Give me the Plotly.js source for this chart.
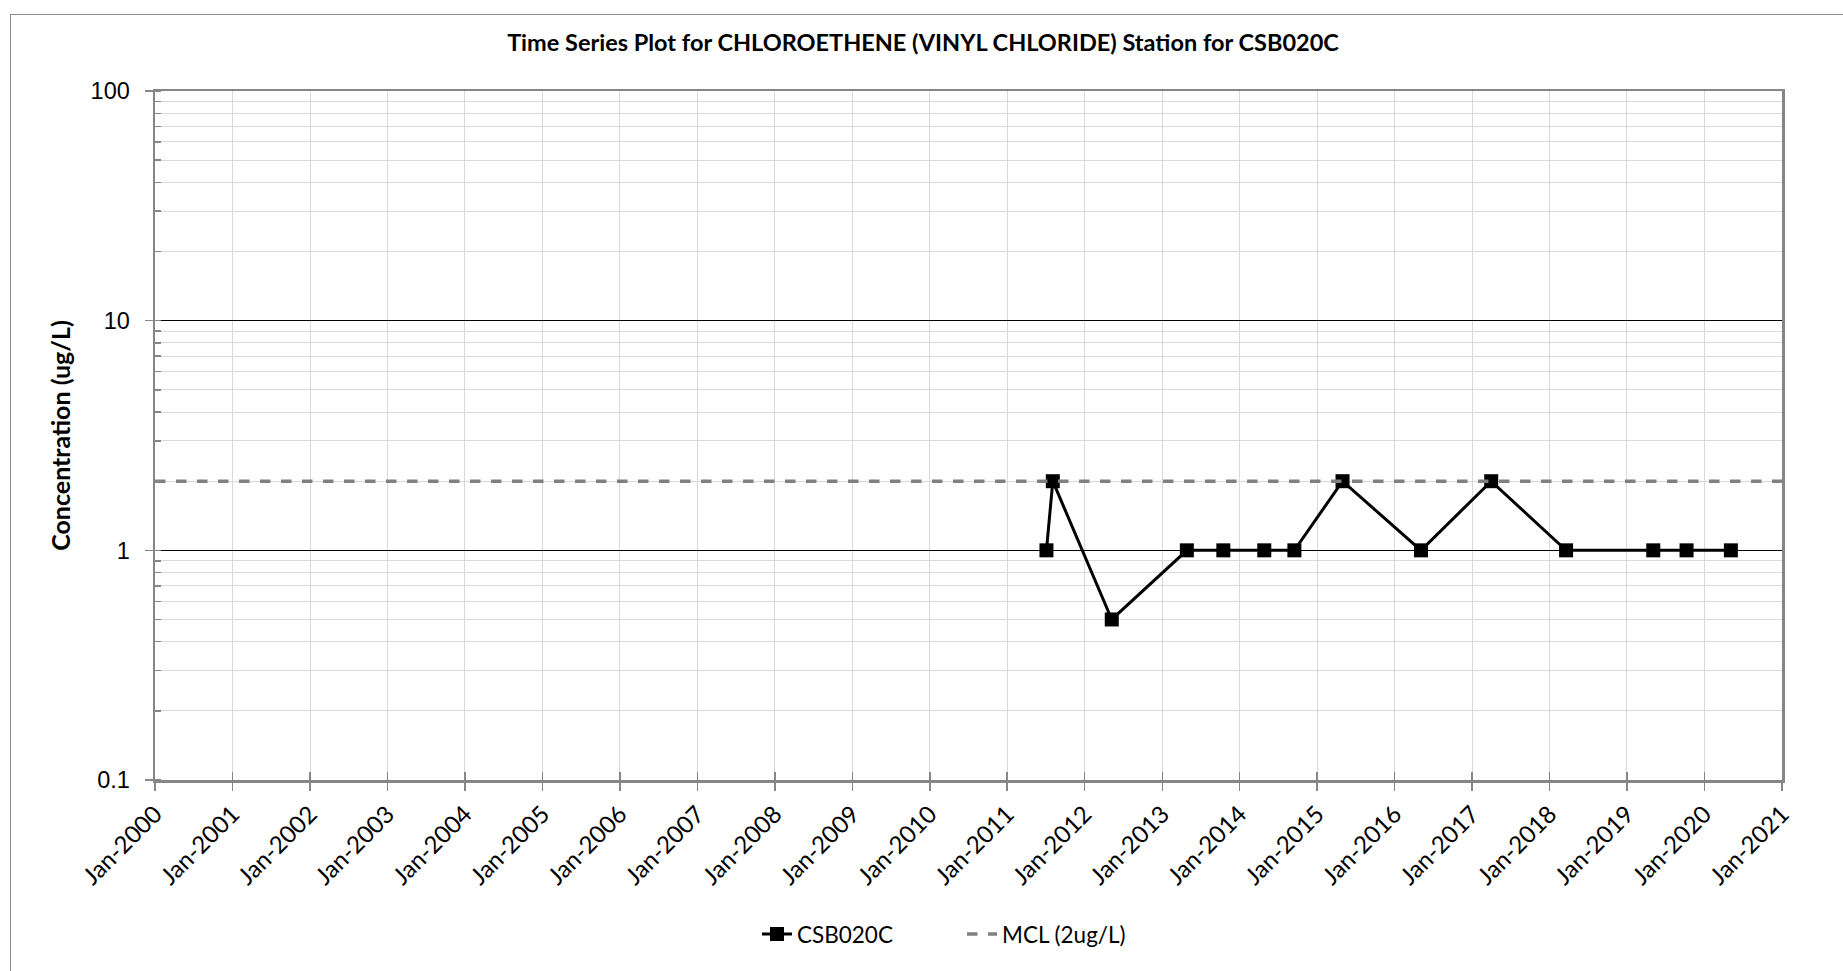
<!DOCTYPE html>
<html>
<head>
<meta charset="utf-8">
<script src="https://cdn.plot.ly/plotly-3.0.1.min.js"></script>
<style>
html,body{margin:0;padding:0;overflow:hidden;background:#fff;width:1843px;height:971px;}
#frame{position:absolute;left:10px;top:14px;width:1860px;height:990px;border:1px solid #8c8c8c;background:#fff;}
#chart{position:absolute;left:0;top:0;width:1850px;height:980px;}
</style>
</head>
<body>
<div id="frame"><div id="chart"></div></div>
<script>
// Sample data
const sampleDates = ['2011-07-05','2011-08-04','2012-05-08','2013-04-27','2013-10-16','2014-04-27','2014-09-16','2015-05-01','2016-05-05','2017-04-01','2018-03-20','2019-05-05','2019-10-09','2020-05-05'];
const sampleValues = [1, 2, 0.5, 1, 1, 1, 1, 2, 1, 2, 1, 1, 1, 1];
const mclDates = ['2000-01-01','2021-01-01'];
const mclValues = [2, 2];
const yTickVals = [0.1, 1, 10, 100];
const yTickText = ['0.1', '1', '10', '100'];
const seriesName = 'CSB020C';
const mclName = 'MCL (2ug/L)';
const chartTitle = 'Time Series Plot for CHLOROETHENE (VINYL CHLORIDE) Station for CSB020C';
const yTitle = 'Concentration (ug/L)';

const FONT = 'Lato, "Open Sans", "Liberation Sans", sans-serif';
const NUMFONT = '"Liberation Sans", Arial, sans-serif';

const traces = [
  {
    x: sampleDates, y: sampleValues, name: seriesName, type: 'scatter', mode: 'lines+markers',
    line: {color: '#000000', width: 3},
    marker: {symbol: 'square', size: 14, color: '#000000'}
  },
  {
    x: mclDates, y: mclValues, name: mclName, type: 'scatter', mode: 'lines',
    line: {color: '#808080', width: 3.5, dash: 'dash'}
  },
  {
    // carrier for the inside half of the x-axis tick marks
    x: mclDates, y: mclValues, xaxis: 'x2', yaxis: 'y', type: 'scatter', mode: 'lines',
    line: {color: 'rgba(0,0,0,0)', width: 0}, showlegend: false, hoverinfo: 'skip'
  }
];

const layout = {
  width: 1850, height: 980,
  margin: {l: 144, r: 79, t: 76, b: 215},
  paper_bgcolor: 'rgba(0,0,0,0)',
  plot_bgcolor: '#ffffff',
  font: {family: FONT, color: '#000000', size: 22},
  showlegend: true,
  title: {
    text: chartTitle,
    font: {family: FONT, size: 23.5, color: '#000000', weight: 'bold'},
    x: 912/1850, xref: 'container', xanchor: 'center',
    y: 1 - 28/980, yref: 'container', yanchor: 'middle'
  },
  xaxis: {
    type: 'date',
    range: ['2000-01-01', '2021-01-01'],
    tick0: '2000-01-01', dtick: 'M12',
    tickformat: '%b-%Y',
    tickangle: -45,
    tickfont: {family: FONT, size: 24, color: '#000000'},
    ticks: 'outside', ticklen: 8, tickcolor: '#868686', tickwidth: 1.5,
    showgrid: true, gridcolor: '#d9d9d9', gridwidth: 1,
    showline: true, linecolor: '#868686', linewidth: 2.5, mirror: true,
    zeroline: false
  },
  xaxis2: {
    type: 'date', overlaying: 'x', anchor: 'y', side: 'bottom',
    range: ['2000-01-01', '2021-01-01'],
    tick0: '2000-01-01', dtick: 'M12',
    ticks: 'inside', ticklen: 8, tickcolor: '#868686', tickwidth: 1.5,
    showticklabels: false, showgrid: false, showline: false, zeroline: false
  },
  yaxis: {
    type: 'log',
    range: [-1, 2],
    tickvals: yTickVals, ticktext: yTickText,
    tickfont: {family: NUMFONT, size: 23.5, color: '#000000'},
    ticks: 'outside', ticklen: 8, tickcolor: '#868686', tickwidth: 1.5,
    ticklabelstandoff: 10,
    showgrid: true, gridcolor: '#000000', gridwidth: 1,
    minor: {dtick: 'D1', showgrid: true, gridcolor: '#d9d9d9', gridwidth: 1, ticks: 'inside', ticklen: 6, tickcolor: '#868686', tickwidth: 1.5},
    showline: true, linecolor: '#868686', linewidth: 2.5, mirror: true,
    zeroline: false,
    title: {text: yTitle, font: {family: FONT, size: 25, color: '#000000', weight: 'bold'}, standoff: 13}
  },
  legend: {
    orientation: 'h',
    x: 0.496, xanchor: 'center',
    y: -0.224, yanchor: 'middle',
    entrywidth: 160, entrywidthmode: 'pixels',
    font: {family: FONT, size: 22.5, color: '#000000'},
    bgcolor: 'rgba(0,0,0,0)'
  }
};

Plotly.newPlot('chart', traces, layout, {displayModeBar: false, staticPlot: true});
</script>
</body>
</html>
